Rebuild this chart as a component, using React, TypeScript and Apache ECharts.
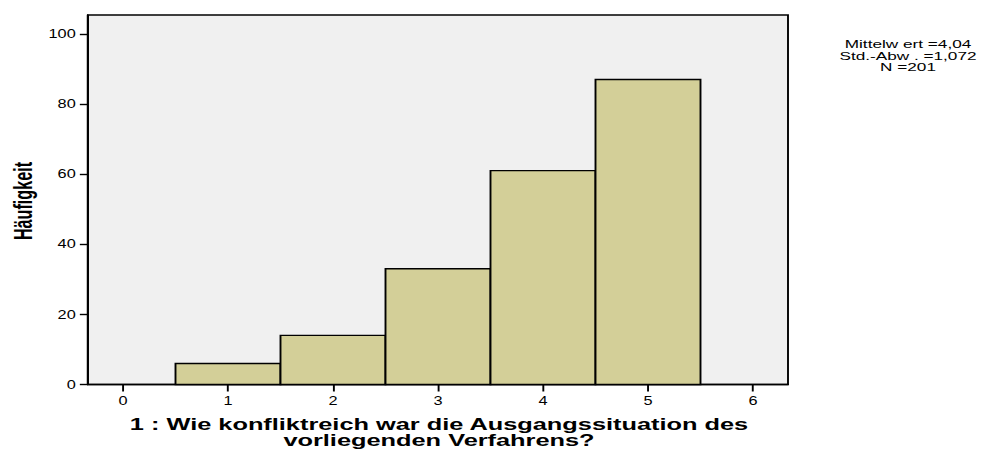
import React, { useEffect, useRef } from "react";
import * as echarts from "echarts";

const categories = [1, 2, 3, 4, 5];
const frequencies = [6, 14, 33, 61, 87];
const xTicks = [0, 1, 2, 3, 4, 5, 6];
const yTicks = [0, 20, 40, 60, 80, 100];
const statsLines = ["Mittelw ert =4,04", "Std.-Abw . =1,072", "N =201"];
const xTitle = "1 : Wie konfliktreich war die Ausgangssituation des\nvorliegenden Verfahrens?";
const yTitle = "Häufigkeit";

const S = 1.36;
const W = 991 / S;
const FONT = "'Liberation Sans', Arial, Helvetica, sans-serif";

export default function App() {
  const ref = useRef<HTMLDivElement>(null);
  useEffect(() => {
    if (!ref.current) return;
    const chart = echarts.init(ref.current, null, { renderer: "svg" });
    const data = categories.map((c, i) => [c, frequencies[i]]);
    chart.setOption({
      animation: false,
      backgroundColor: "#ffffff",
      grid: {
        left: 88 / S,
        top: 15,
        width: 700 / S,
        height: 369.5,
        show: true,
        backgroundColor: "#f0f0f0",
        borderColor: "#000",
        borderWidth: 1.4,
        containLabel: false,
        outerBoundsMode: "none",
      },
      xAxis: {
        type: "value",
        min: -1 / 3,
        max: 19 / 3,
        splitLine: { show: false },
        axisLine: { show: true, onZero: false, lineStyle: { color: "#000", width: 1.4 } },
        axisTick: { show: true, customValues: xTicks, length: 7, lineStyle: { color: "#000", width: 1.4 } },
        axisLabel: {
          customValues: xTicks,
          margin: 10,
          color: "#000",
          fontFamily: FONT,
          fontSize: 12,
          formatter: (v: number) => String(Math.round(v)),
        },
      },
      yAxis: {
        type: "value",
        min: 0,
        max: 105.4,
        splitLine: { show: false },
        axisLine: { show: true, onZero: false, lineStyle: { color: "#000", width: 1.4 } },
        axisTick: { show: true, customValues: yTicks, length: 6, lineStyle: { color: "#000", width: 1.4 } },
        axisLabel: {
          customValues: yTicks,
          margin: 9,
          color: "#000",
          fontFamily: FONT,
          fontSize: 12,
        },
      },
      graphic: [
        {
          type: "text",
          x: 23 / S,
          y: 201,
          rotation: Math.PI / 2,
          scaleX: 0.83,
          style: {
            text: yTitle,
            fill: "#000",
            font: `bold 19.5px ${FONT}`,
            textAlign: "center",
            textVerticalAlign: "middle",
          },
        },
        {
          type: "text",
          x: 439 / S,
          y: 416,
          scaleX: 1.13,
          style: {
            text: xTitle,
            fill: "#000",
            font: `bold 16.5px ${FONT}`,
            lineHeight: 16.5,
            textAlign: "center",
            textVerticalAlign: "top",
          },
        },
        {
          type: "text",
          x: 908 / S,
          y: 38.5,
          scaleX: 1.15,
          style: {
            text: statsLines.join("\n"),
            fill: "#000",
            font: `11px ${FONT}`,
            lineHeight: 11.5,
            textAlign: "center",
            textVerticalAlign: "top",
          },
        },
      ],
      series: [
        {
          type: "custom",
          data,
          renderItem: (params: any, api: any) => {
            const x = api.value(0);
            const y = api.value(1);
            const p1 = api.coord([x - 0.5, y]);
            const p2 = api.coord([x + 0.5, 0]);
            return {
              type: "rect",
              shape: { x: p1[0], y: p1[1], width: p2[0] - p1[0], height: p2[1] - p1[1] },
              style: { fill: "#d3cf98", stroke: "#000", lineWidth: 1.4 },
            };
          },
        },
      ],
    });
    return () => chart.dispose();
  }, []);
  return (
    <div
      ref={ref}
      style={{
        position: "fixed",
        left: 0,
        top: 0,
        width: W,
        height: 451,
        transform: `scaleX(${S})`,
        transformOrigin: "0 0",
      }}
    />
  );
}
